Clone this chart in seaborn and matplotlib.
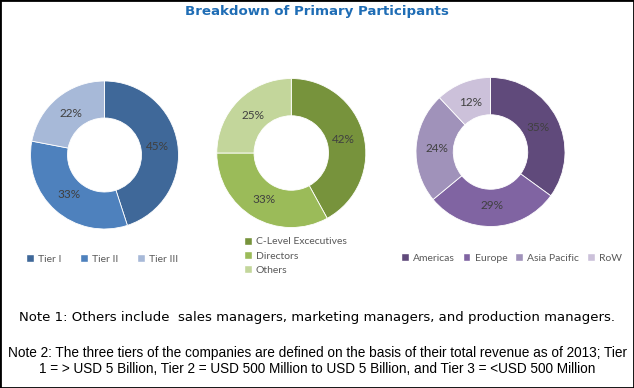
import matplotlib
matplotlib.use("Agg")
import matplotlib.pyplot as plt
import seaborn as sns
from matplotlib.patches import Patch, Rectangle

# Data
tiers = ["Tier I", "Tier II", "Tier III"]
tier_share = [45, 33, 22]
roles = ["C-Level Excecutives", "Directors", "Others"]
role_share = [42, 33, 25]
regions = ["Americas", "Europe", "Asia Pacific", "RoW"]
region_share = [35, 29, 24, 12]

tier_colors = ["#3F6899", "#4E81BD", "#A7B9D8"]
role_colors = ["#77933C", "#9BBB59", "#C3D69B"]
region_colors = ["#604A7B", "#8064A2", "#A092BA", "#CCC1DA"]

title = "Breakdown of Primary Participants"
note1 = "Note 1: Others include  sales managers, marketing managers, and production managers."
note2 = ("Note 2: The three tiers of the companies are defined on the basis of their total revenue as of 2013; Tier\n"
         "1 = > USD 5 Billion, Tier 2 = USD 500 Million to USD 5 Billion, and Tier 3 = <USD 500 Million")

sns.set_theme(style="white")
plt.rcParams["font.family"] = ["Lato", "DejaVu Sans"]

W, H = 634, 388
fig = plt.figure(figsize=(W / 100, H / 100), dpi=100)
fig.patch.set_facecolor("white")


def px_axes(cx, cy, r):
    return fig.add_axes([(cx - r) / W, (H - cy - r) / H, 2 * r / W, 2 * r / H])


def donut(ax, values, colors):
    ax.pie(values, colors=colors, startangle=90, counterclock=False,
           autopct="%d%%", pctdistance=0.72, radius=1,
           wedgeprops=dict(width=0.5, edgecolor="white", linewidth=0.6),
           textprops=dict(color="#404040", fontsize=8.5))
    ax.set_xlim(-1, 1)
    ax.set_ylim(-1, 1)
    ax.set_aspect("equal")
    ax.axis("off")


ax1 = px_axes(104.5, 155, 74)
donut(ax1, tier_share, tier_colors)
ax2 = px_axes(291.3, 153, 74.5)
donut(ax2, role_share, role_colors)
ax3 = px_axes(490.5, 152, 74.5)
donut(ax3, region_share, region_colors)

leg_kw = dict(frameon=False, fontsize=7.5, handlelength=0.75, handleheight=0.75,
              handletextpad=0.4, labelcolor="#595959", borderpad=0, borderaxespad=0)

h1 = [Patch(facecolor=c, label=l) for c, l in zip(tier_colors, tiers)]
fig.legend(handles=h1, loc="center left", bbox_to_anchor=(26 / W, 1 - 259 / H),
           ncol=3, columnspacing=1.8, **leg_kw)

h2 = [Patch(facecolor=c, label=l) for c, l in zip(role_colors, roles)]
fig.legend(handles=h2, loc="upper left", bbox_to_anchor=(244 / W, 1 - 237 / H),
           ncol=1, labelspacing=0.45, **leg_kw)

h3 = [Patch(facecolor=c, label=l) for c, l in zip(region_colors, regions)]
fig.legend(handles=h3, loc="center left", bbox_to_anchor=(401 / W, 1 - 258 / H),
           ncol=4, columnspacing=0.75, **leg_kw)

fig.text(0.5, 1 - 11 / H, title, ha="center", va="center", color="#1F6DB5",
         fontsize=9.6, fontweight="bold", family=["DejaVu Sans"])
fig.text(0.5, 1 - 318 / H, note1, ha="center", va="center", color="black",
         fontsize=9.5, family=["DejaVu Sans"])
fig.text(0.5, 1 - 361 / H, note2, ha="center", va="center", color="black",
         fontsize=9.8, family=["Liberation Sans"], linespacing=1.1)

fig.patches.append(Rectangle((0, 0), 1, 1, transform=fig.transFigure, fill=False,
                             edgecolor="black", linewidth=2))

fig.savefig("out.png", dpi=100)
